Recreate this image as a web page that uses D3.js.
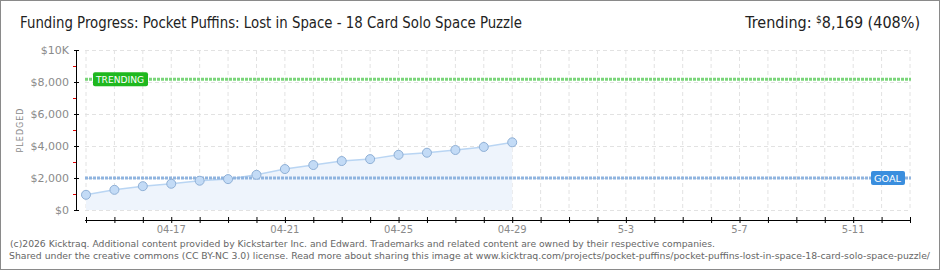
<!DOCTYPE html>
<html>
<head>
  <meta charset="utf-8">
  <title>Funding Progress</title>
  <script src="https://cdn.jsdelivr.net/npm/d3@7"></script>
  <style>
    body { margin: 0; background: #fff; }
    text { font-family: "DejaVu Sans", sans-serif; }
  </style>
</head>
<body>
<script>
// daily pledged totals, 04-14 .. 04-29
var days = ["2026-04-14","2026-04-15","2026-04-16","2026-04-17","2026-04-18","2026-04-19","2026-04-20","2026-04-21",
            "2026-04-22","2026-04-23","2026-04-24","2026-04-25","2026-04-26","2026-04-27","2026-04-28","2026-04-29"];
var pledged = [950, 1260, 1490, 1640, 1830, 1930, 2200, 2560, 2810, 3060, 3180, 3450, 3580, 3750, 3940, 4230];
var goal = 2000;
var trending = 8169;
var yTicks = [0, 2000, 4000, 6000, 8000, 10000];
var yTickLabels = ["$0", "$2,000", "$4,000", "$6,000", "$8,000", "$10K"];
var xTickDays = ["2026-04-17","2026-04-21","2026-04-25","2026-04-29","2026-05-03","2026-05-07","2026-05-11"];
var xTickLabels = ["04-17", "04-21", "04-25", "04-29", "5-3", "5-7", "5-11"];

var W = 940, H = 270;
var parse = d3.utcParse("%Y-%m-%d");

var svg = d3.select("body").append("svg")
    .attr("width", W).attr("height", H);

// rahmen
svg.append("rect").attr("x", 0.5).attr("y", 0.5).attr("width", W - 1).attr("height", H - 1)
    .attr("fill", "#fff").attr("stroke", "#8a8a8a");

var x = d3.scaleUtc().domain([parse("2026-04-14"), parse("2026-05-13")]).range([86, 910]);
var y = d3.scaleLinear().domain([0, 10000]).range([210, 50]);

var allDays = d3.utcDay.range(parse("2026-04-14"), d3.utcDay.offset(parse("2026-05-13"), 1));

// gitter
svg.append("g").selectAll("line").data(allDays).enter().append("line")
    .attr("x1", function(d) { return x(d); }).attr("x2", function(d) { return x(d); })
    .attr("y1", y(10000)).attr("y2", y(0))
    .attr("stroke", "#e2e2e2").attr("stroke-dasharray", "4,3");
svg.append("g").selectAll("line").data(yTicks).enter().append("line")
    .attr("x1", 85).attr("x2", 911)
    .attr("y1", function(d) { return y(d) + 0.5; }).attr("y2", function(d) { return y(d) + 0.5; })
    .attr("stroke", "#e2e2e2").attr("stroke-dasharray", "4,3");

// y achse
var yAxis = svg.append("g");
yAxis.append("line").attr("x1", 76.5).attr("x2", 76.5).attr("y1", y(10000)).attr("y2", y(0) + 0.5)
    .attr("stroke", "#000");
yAxis.selectAll(".minor").data(d3.range(1000, 10000, 2000)).enter().append("line")
    .attr("x1", 73).attr("x2", 76)
    .attr("y1", function(d) { return y(d) + 0.5; }).attr("y2", function(d) { return y(d) + 0.5; })
    .attr("stroke", "#e00000");
yAxis.selectAll(".major").data(yTicks).enter().append("line")
    .attr("x1", 74).attr("x2", 79)
    .attr("y1", function(d) { return y(d) + 0.5; }).attr("y2", function(d) { return y(d) + 0.5; })
    .attr("stroke", "#000");
yAxis.selectAll("text").data(yTicks).enter().append("text")
    .attr("x", 69).attr("y", function(d) { return y(d) + 4; })
    .attr("text-anchor", "end").attr("font-size", 11).attr("fill", "#8a8a8a")
    .text(function(d, i) { return yTickLabels[i]; });

svg.append("text").attr("transform", "translate(23,130) rotate(-90)")
    .attr("text-anchor", "middle").attr("font-size", 8).attr("letter-spacing", 1)
    .attr("fill", "#8a8a8a").text("PLEDGED");

// x achse
var xAxis = svg.append("g");
xAxis.append("line").attr("x1", 85).attr("x2", 911).attr("y1", 220.5).attr("y2", 220.5).attr("stroke", "#000");
xAxis.selectAll(".tick").data(allDays).enter().append("line")
    .attr("x1", function(d) { return x(d) + 0.5; }).attr("x2", function(d) { return x(d) + 0.5; })
    .attr("y1", 217).attr("y2", 223).attr("stroke", "#000");
xAxis.selectAll("text").data(xTickDays).enter().append("text")
    .attr("x", function(d) { return x(parse(d)); }).attr("y", 233)
    .attr("text-anchor", "middle").attr("font-size", 10).attr("fill", "#8a8a8a")
    .text(function(d, i) { return xTickLabels[i]; });

// flaeche und linie
var pts = days.map(function(d, i) { return { date: parse(d), value: pledged[i] }; });
svg.append("path").datum(pts)
    .attr("d", d3.area().x(function(d) { return x(d.date); }).y0(y(0)).y1(function(d) { return y(d.value); }))
    .attr("fill", "#eef4fc");
svg.append("path").datum(pts)
    .attr("d", d3.line().x(function(d) { return x(d.date); }).y(function(d) { return y(d.value); }))
    .attr("fill", "none").attr("stroke", "#b9d5f3").attr("stroke-width", 1.5);

// ziel und trend
svg.append("line").attr("x1", 85).attr("x2", 911).attr("y1", y(goal)).attr("y2", y(goal))
    .attr("stroke", "#8fb4df").attr("stroke-width", 3).attr("stroke-dasharray", "3,1");
svg.append("line").attr("x1", 85).attr("x2", 911).attr("y1", y(trending)).attr("y2", y(trending))
    .attr("stroke", "#7ad57a").attr("stroke-width", 3).attr("stroke-dasharray", "3,1");

svg.selectAll(".pt").data(pts).enter().append("circle")
    .attr("cx", function(d) { return x(d.date); }).attr("cy", function(d) { return y(d.value); })
    .attr("r", 4.5).attr("fill", "#c3dbf6").attr("stroke", "#8fb0d6");

// labels
function tag(x0, yv, w, fill, label) {
  svg.append("rect").attr("x", x0).attr("y", y(yv) - 7).attr("width", w).attr("height", 14)
      .attr("rx", 2).attr("fill", fill);
  svg.append("text").attr("x", x0 + 3).attr("y", y(yv) + 4).attr("font-size", 9.5)
      .attr("fill", "#fff").attr("textLength", w - 7).attr("lengthAdjust", "spacingAndGlyphs")
      .text(label);
}
tag(93, trending, 55, "#1fb81f", "TRENDING");
tag(871, goal, 34, "#3a8ede", "GOAL");

// titel
svg.append("text").attr("x", 20).attr("y", 28).attr("font-size", 16).attr("fill", "#222")
    .attr("textLength", 502).attr("lengthAdjust", "spacingAndGlyphs")
    .text("Funding Progress: Pocket Puffins: Lost in Space - 18 Card Solo Space Puzzle");
var tr = svg.append("text").attr("x", 920).attr("y", 28).attr("text-anchor", "end")
    .attr("font-size", 16).attr("fill", "#222").attr("font-family", "'DejaVu Sans Condensed', 'DejaVu Sans', sans-serif")
    .attr("font-stretch", "condensed");
tr.append("tspan").text("Trending:  ");
tr.append("tspan").attr("font-size", 10).attr("dy", -5).text("$");
tr.append("tspan").attr("dy", 5).text("8,169 (408%)");

// fusszeile
svg.append("text").attr("x", 10).attr("y", 247).attr("font-size", 9.5).attr("fill", "#666")
    .attr("textLength", 705).attr("lengthAdjust", "spacingAndGlyphs")
    .text("(c)2026 Kicktraq. Additional content provided by Kickstarter Inc. and Edward. Trademarks and related content are owned by their respective companies.");
svg.append("text").attr("x", 9).attr("y", 259).attr("font-size", 8.6).attr("fill", "#666")
    .attr("textLength", 921).attr("lengthAdjust", "spacingAndGlyphs")
    .text("Shared under the creative commons (CC BY-NC 3.0) license. Read more about sharing this image at www.kicktraq.com/projects/pocket-puffins/pocket-puffins-lost-in-space-18-card-solo-space-puzzle/");
</script>
</body>
</html>
